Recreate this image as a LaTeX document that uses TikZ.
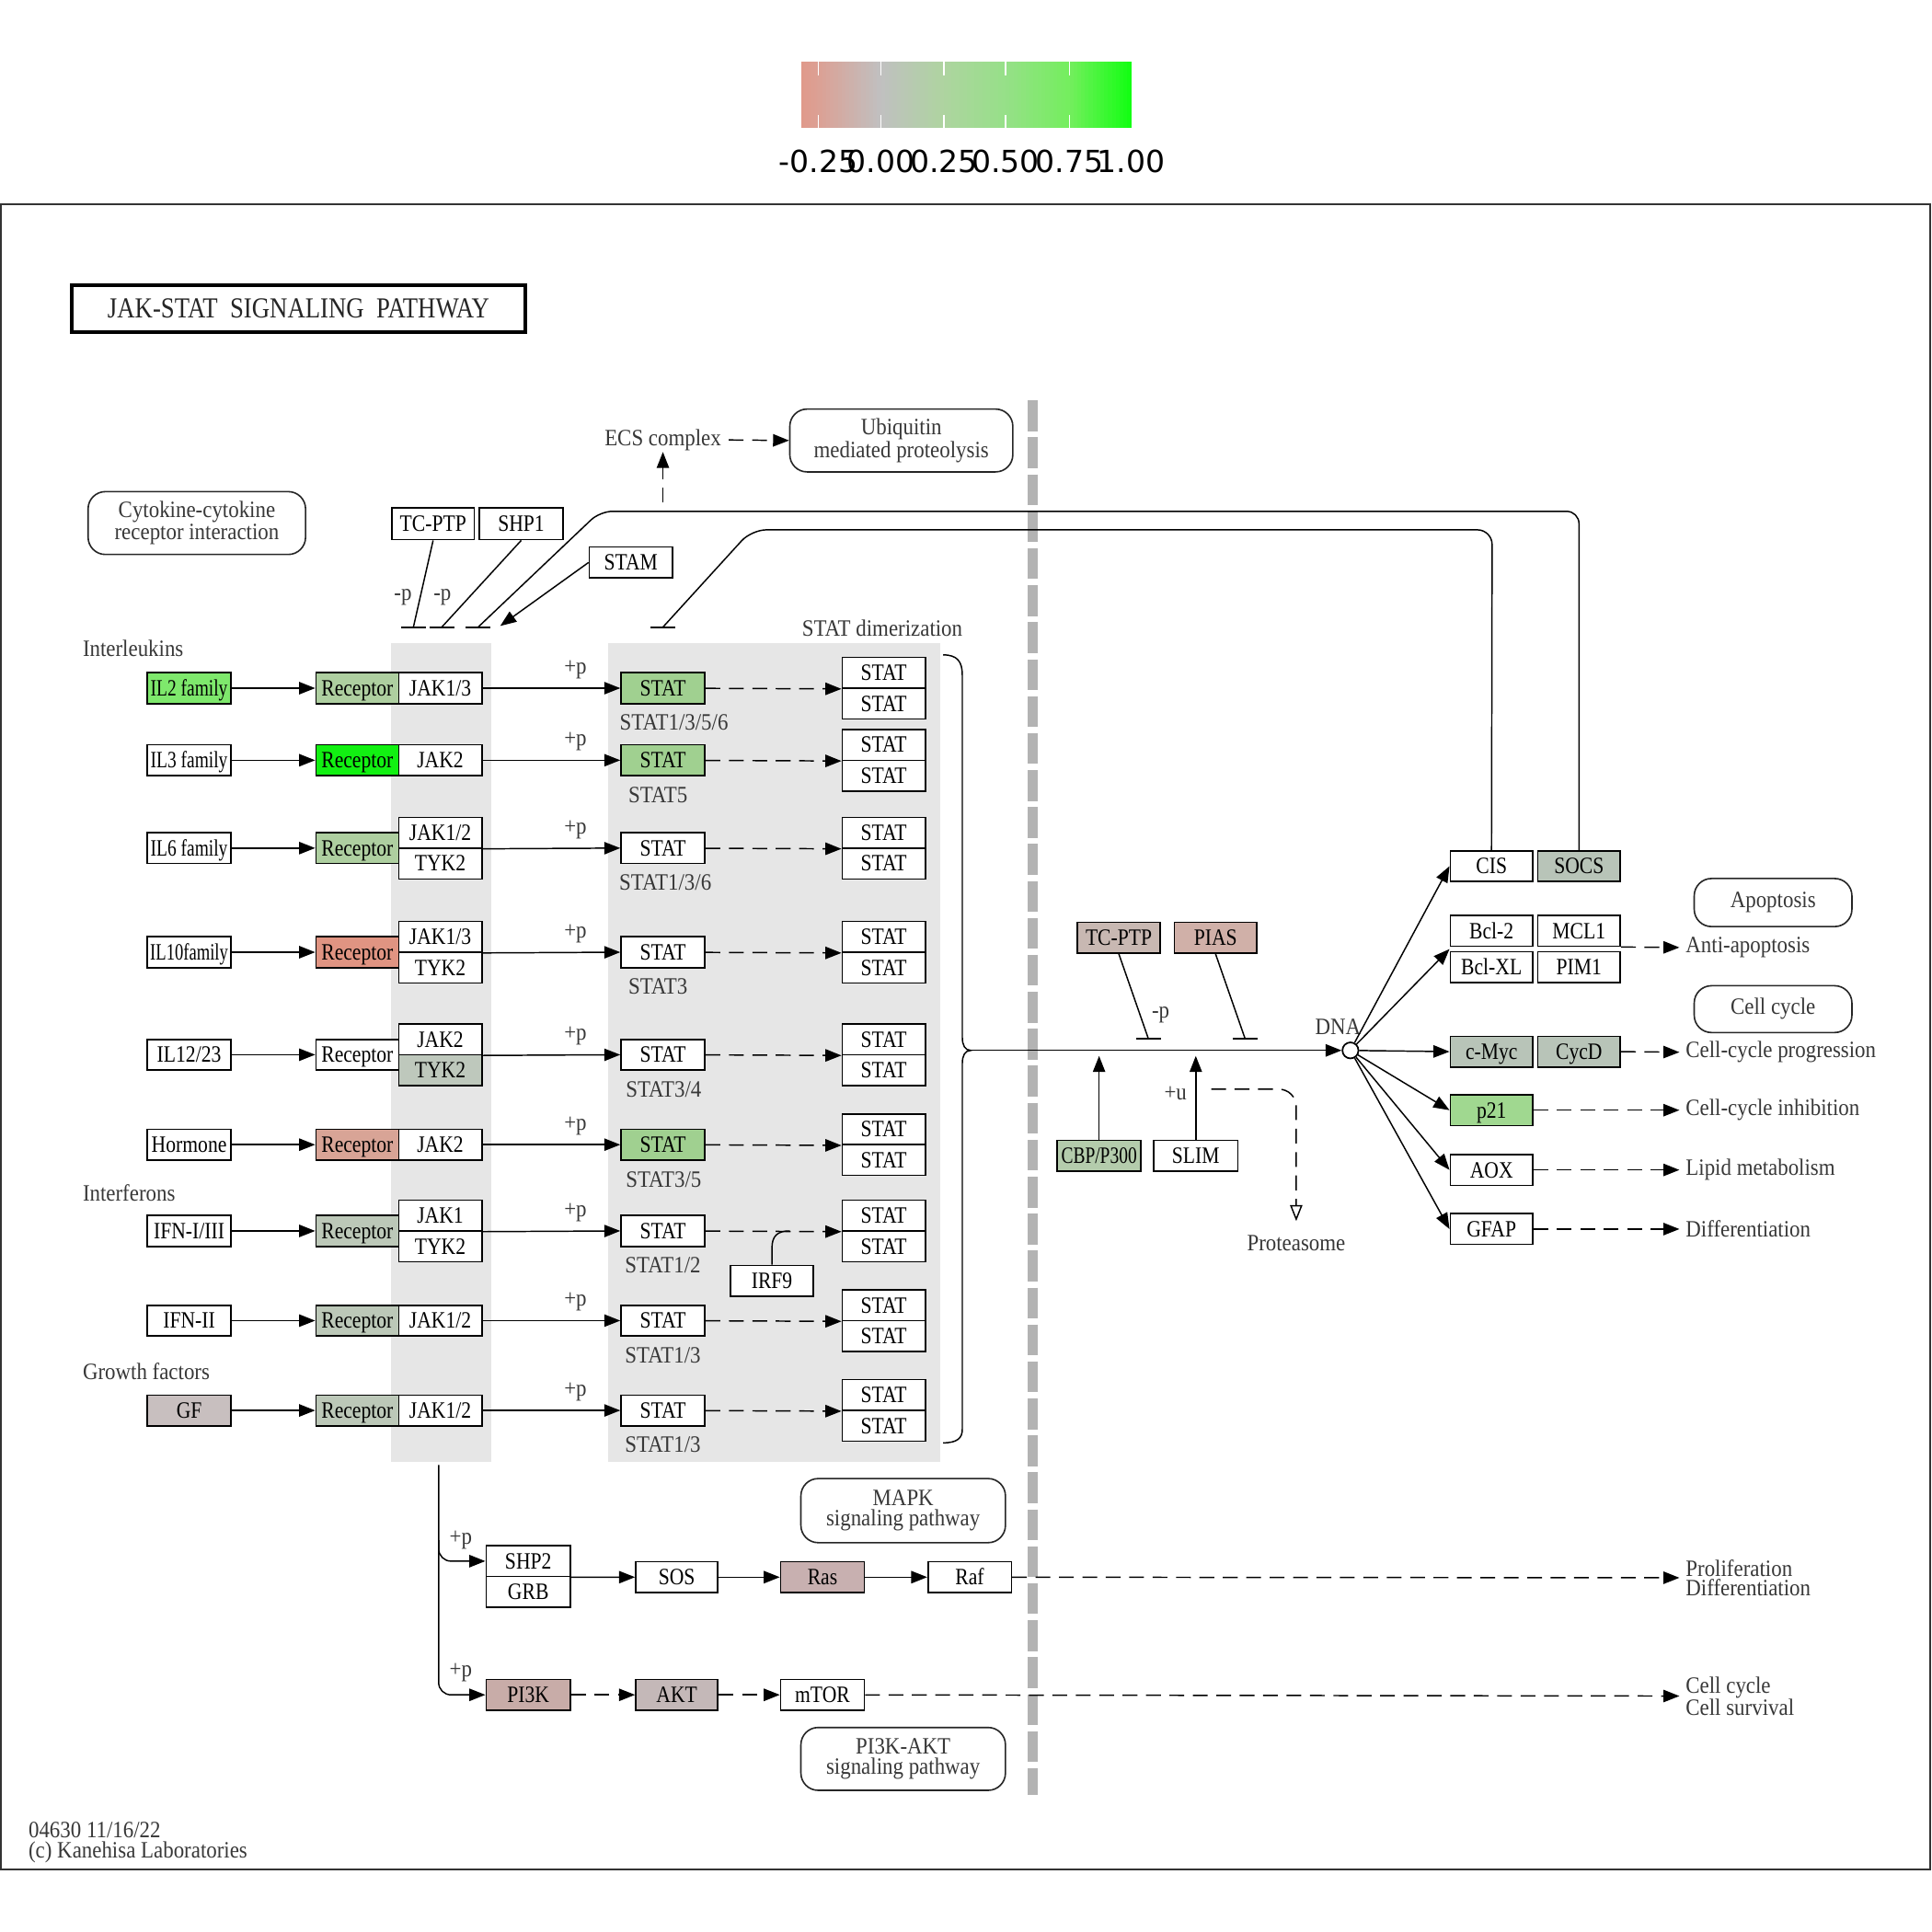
\documentclass[tikz,border=0pt]{standalone}
\usepackage{graphicx}
\usepackage{fontspec}
\setmainfont{Liberation Serif}
\newfontfamily\bxf[FakeStretch=0.85]{Liberation Serif}
\newfontfamily\lbf[FakeStretch=0.9]{Liberation Serif}
\newfontfamily\lgf{DejaVu Sans}
\usetikzlibrary{arrows.meta,calc}
\newcommand{\sqz}[2]{\scalebox{#1}[1]{#2}}
\definecolor{cGa}{HTML}{7EE86C}
\definecolor{cBright}{HTML}{12F012}
\definecolor{cSage}{HTML}{AECFA0}
\definecolor{cSal}{HTML}{E09482}
\definecolor{cSalL}{HTML}{D8A496}
\definecolor{cGS}{HTML}{BCC8B8}
\definecolor{cTyk}{HTML}{BEC8BC}
\definecolor{cSoc}{HTML}{B8C4B8}
\definecolor{cStat}{HTML}{A0D090}
\definecolor{cPtw}{HTML}{A0D890}
\definecolor{cGF}{HTML}{C8BFBF}
\definecolor{cTCP}{HTML}{C8B8B2}
\definecolor{cPIAS}{HTML}{D0B0A8}
\definecolor{cCBP}{HTML}{B4CCAC}
\definecolor{cRas}{HTML}{C8B0B0}
\definecolor{cPIK}{HTML}{C8ACA8}
\definecolor{cAKT}{HTML}{C4B8B8}
\definecolor{colJ}{HTML}{E6E6E6}
\definecolor{memc}{HTML}{B3B3B3}
\definecolor{txtg}{HTML}{383838}
\definecolor{lgA}{HTML}{E0998A}
\definecolor{lgB}{HTML}{DCA094}
\definecolor{lgC}{HTML}{C0C0C0}
\definecolor{lgD}{HTML}{AED4A0}
\definecolor{lgE}{HTML}{96E088}
\definecolor{lgF}{HTML}{74EE5E}
\definecolor{lgG}{HTML}{12FF12}
\tikzset{
 gbox/.style={draw=black, fill=white, line width=1.2pt, minimum width=67.5pt, minimum height=25pt, inner sep=0pt,
   font=\bxf\fontsize{19}{19}\selectfont, text height=14pt, text depth=1.5pt},
 lbl/.style={font=\lbf\fontsize{19}{16}\selectfont, text=txtg, inner sep=1pt},
 rbox/.style={draw=black!85, fill=white, line width=1.2pt, rounded corners=14pt, align=center,
   font=\lbf\fontsize{19}{16}\selectfont, text=txtg, inner sep=0pt},
 conn/.style={line width=1.1pt},
 arr/.style={conn, -{Triangle[length=13pt,width=10pt]}},
 dasharr/.style={arr, dash pattern=on 12pt off 7pt},
 toLbl/.style={dasharr, shorten >=4pt},
 inhbar/.style={line width=1.3pt},
 region/.style={fill=colJ, inner sep=0pt},
}
\begin{document}
\begin{tikzpicture}[x=1pt,y=-1pt]
\useasboundingbox (0,0) rectangle (1568,1568);
\fill[white] (0,0) rectangle (1568,1568);

% ---------- legend ----------
\foreach \xa/\xb/\ca/\cb in {650/664/lgA/lgB, 664/715/lgB/lgC, 715/766/lgC/lgD, 766/816/lgD/lgE, 816/868/lgE/lgF, 868/918/lgF/lgG}{
  \foreach \i in {0,...,15}{
    \pgfmathsetmacro{\pp}{100-(\i+0.5)*100/16}
    \pgfmathsetmacro{\xl}{\xa+(\xb-\xa)*\i/16}
    \pgfmathsetmacro{\xr}{\xa+(\xb-\xa)*(\i+1)/16+0.4}
    \fill[\ca!\pp!\cb] (\xl,50) rectangle (\xr,104);
  }
}
\foreach \t in {664,715,766,816,868}{
  \draw[white, line width=1pt] (\t,50) -- (\t,61) (\t,93) -- (\t,104);
}
\foreach \t/\v in {664/-0.25,715/0.00,766/0.25,816/0.50,868/0.75,918/1.00}{
  \node[font=\lgf\fontsize{24.7}{25}\selectfont, inner sep=0pt] (lg\t) at (\t,131) {\v};
}

% ---------- frame ----------
\draw[line width=1.5pt, black!80] (1,165.5) rectangle (1566.5,1517);

% ---------- title ----------
\node[draw=black, line width=2.6pt, minimum width=368pt, minimum height=38pt, inner sep=0pt,
  font=\bxf\fontsize{23.5}{23.5}\selectfont, text=black!85] (title) at (242.3,250.5) {JAK-STAT~~SIGNALING~~PATHWAY};

% ---------- shaded regions & membrane ----------
\node[region, minimum width=81.2pt, minimum height=664.5pt] (jakcol) at (358.2,854.25) {};
\node[region, minimum width=269.4pt, minimum height=664.5pt] (statcol) at (628.3,854.25) {};
\draw[memc, line width=8pt, dash pattern=on 25pt off 5pt] (838,325) -- (838,1457);

% ---------- map links ----------
\node[rbox, minimum width=176.5pt, minimum height=51pt] (cyto) at (159.75,424.5) {Cytokine-cytokine\\receptor interaction};
\node[rbox, minimum width=181pt, minimum height=51pt] (ubiq) at (731.5,357.5) {Ubiquitin\\mediated proteolysis};
\node[rbox, minimum width=128pt, minimum height=39pt] (apop) at (1439,732.5) {Apoptosis};
\node[rbox, minimum width=128pt, minimum height=38pt] (ccyc) at (1439,819) {Cell cycle};
\node[rbox, minimum width=166pt, minimum height=52pt] (mapk) at (733,1226) {MAPK\\signaling pathway};
\node[rbox, minimum width=166pt, minimum height=51pt] (pakt) at (733,1427.5) {PI3K-AKT\\signaling pathway};

% ---------- labels ----------
\node[lbl, anchor=west] (ilab) at (66,526.5) {Interleukins};
\node[lbl, anchor=west] (ifnlab) at (66,968) {Interferons};
\node[lbl, anchor=west] (gflab) at (66,1112.7) {Growth factors};
\node[lbl] (ecs) at (538,357) {ECS complex};
\node[lbl] (dimlab) at (716,510) {STAT dimerization};
\node[lbl] (mp1) at (327,485) {-p};
\node[lbl] (mp2) at (359,485) {-p};
\node[lbl] (mp3) at (942,824) {-p};
\node[lbl] (pu) at (954,887) {+u};
\node[lbl] (dnalab) at (1086,833) {DNA};
\node[lbl] (prot) at (1052,1009) {Proteasome};
\node[lbl] (pb1) at (374,1249.6) {+p};
\node[lbl] (pb2) at (374,1357.8) {+p};
\node[lbl, anchor=west, align=left] (foot) at (22,1495.5) {04630 11/16/22\\(c) Kanehisa Laboratories};

% ---------- rows ----------
\foreach \n/\y/\lig/\ligC/\recC/\stC/\stL/\stX in {
 1/558.5/{\sqz{0.9}{IL2 family}}/cGa/cSage/cStat/{STAT1/3/5/6}/547,
 2/617/{\sqz{0.9}{IL3 family}}/white/cBright/cStat/{STAT5}/534,
 3/688.3/{\sqz{0.9}{IL6 family}}/white/cSage/white/{STAT1/3/6}/540,
 4/772.8/{\sqz{0.86}{IL10family}}/white/cSal/white/{STAT3}/534,
 5/856/{IL12/23}/white/white/white/{STAT3/4}/538.6,
 6/929/{Hormone}/white/cSalL/cStat/{STAT3/5}/538.6,
 7/999/{IFN-I/III}/white/cGS/white/{STAT1/2}/538,
 8/1071.8/{IFN-II}/white/cGS/white/{STAT1/3}/538,
 9/1144.7/{GF}/cGF/cGS/white/{STAT1/3}/538}{
  \node[gbox, fill=\ligC, minimum width=68pt] (lig\n) at (153.5,\y) {\lig};
  \node[gbox, fill=\recC, minimum width=67.2pt] (rec\n) at (290,\y) {Receptor};
  \node[gbox, fill=\stC, minimum width=68pt] (stat\n) at (538,\y) {STAT};
  \node[lbl] (sl\n) at (\stX,\y+28) {\stL};
  \node[gbox] (dA\n) at (717.25,\y-12.5) {STAT};
  \node[gbox] (dB\n) at (717.25,\y+12.5) {STAT};
  \node[lbl] (pp\n) at (467,\y-15) {+p};
  \draw[arr] (lig\n) -- (rec\n);
  \draw[dasharr] (stat\n) -- (dA\n.south west);
}
% JAK boxes
\node[gbox] (jak1) at (357.3,558.5) {JAK1/3};
\node[gbox] (jak2) at (357.3,617) {JAK2};
\node[gbox] (jak3a) at (357.3,675.8) {JAK1/2};
\node[gbox] (jak3b) at (357.3,700.8) {TYK2};
\node[gbox] (jak4a) at (357.3,760.3) {JAK1/3};
\node[gbox] (jak4b) at (357.3,785.3) {TYK2};
\node[gbox] (jak5a) at (357.3,843.5) {JAK2};
\node[gbox, fill=cTyk] (jak5b) at (357.3,868.5) {TYK2};
\node[gbox] (jak6) at (357.3,929) {JAK2};
\node[gbox] (jak7a) at (357.3,986.5) {JAK1};
\node[gbox] (jak7b) at (357.3,1011.5) {TYK2};
\node[gbox] (jak8) at (357.3,1071.8) {JAK1/2};
\node[gbox] (jak9) at (357.3,1144.7) {JAK1/2};
\draw[arr] (jak1) -- (stat1);
\draw[arr] (jak2) -- (stat2);
\draw[arr] (jak3a.south east) -- (stat3.west);
\draw[arr] (jak4a.south east) -- (stat4.west);
\draw[arr] (jak5a.south east) -- (stat5.west);
\draw[arr] (jak6) -- (stat6);
\draw[arr] (jak7a.south east) -- (stat7.west);
\draw[arr] (jak8) -- (stat8);
\draw[arr] (jak9) -- (stat9);

% IRF9
\node[gbox, minimum width=67pt] (irf9) at (626.5,1039.5) {IRF9};
\coordinate (irfj) at (641,999);
\draw[conn] (irf9.north) -- (626.5,1013) .. controls (626.5,1003) and (631,999) .. (irfj);

% ---------- upstream regulators ----------
\node[gbox, minimum width=67pt, minimum height=26pt] (tcptp1) at (351.5,425) {TC-PTP};
\node[gbox, minimum width=68pt, minimum height=26pt] (shp1) at (423,425) {SHP1};
\node[gbox, minimum width=67.5pt] (stam) at (512,456.5) {STAM};
\coordinate (bar1) at (335.5,509);
\coordinate (bar2) at (358.5,509);
\coordinate (bar3) at (388,509);
\coordinate (bar4) at (538,509);
\coordinate (stamtip) at (406,508);
\coordinate (ecsfoot) at (538,408);

% ---------- nucleus targets ----------
\node[gbox, minimum width=67pt] (cis) at (1210.5,703) {CIS};
\node[gbox, minimum width=67pt, fill=cSoc] (socs) at (1281.5,703) {SOCS};
\node[gbox, minimum width=67pt] (bcltwo) at (1210.5,755.5) {Bcl-2};
\node[gbox, minimum width=67pt] (mclone) at (1281.5,755.5) {MCL1};
\node[gbox, minimum width=67pt] (bclxl) at (1210.5,785) {Bcl-XL};
\node[gbox, minimum width=67pt] (pimone) at (1281.5,785) {PIM1};
\node[gbox, minimum width=67pt, fill=cSoc] (cmyc) at (1210.5,853.5) {c-Myc};
\node[gbox, minimum width=67pt, fill=cSoc] (cycd) at (1281.5,853.5) {CycD};
\node[gbox, minimum width=67pt, fill=cPtw] (ptw) at (1210.5,901) {p21};
\node[gbox, minimum width=67pt] (aox) at (1210.5,949.5) {AOX};
\node[gbox, minimum width=67pt] (gfap) at (1210.5,997.5) {GFAP};

\node[lbl, anchor=west] (antiapo) at (1367,769) {Anti-apoptosis};
\node[lbl, anchor=west] (ccprog) at (1367,854) {Cell-cycle progression};
\node[lbl, anchor=west] (ccinh) at (1367,901) {Cell-cycle inhibition};
\node[lbl, anchor=west] (lipid) at (1367,949.5) {Lipid metabolism};
\node[lbl, anchor=west] (diffl) at (1367,997.5) {Differentiation};
\node[lbl, anchor=west, align=left] (prolif) at (1367,1280.5) {Proliferation\\Differentiation};
\node[lbl, anchor=west, align=left] (ccsurv) at (1367,1376.5) {Cell cycle\\Cell survival};

% nuclear regulators
\node[gbox, fill=cTCP, minimum width=67.5pt] (tcptp2) at (908,761) {TC-PTP};
\node[gbox, fill=cPIAS, minimum width=67pt] (pias) at (986.5,761) {PIAS};
\node[gbox, fill=cCBP, minimum width=68pt] (cbp) at (892,938) {\sqz{0.9}{CBP/P300}};
\node[gbox, minimum width=68pt] (slim) at (970.5,938) {SLIM};
\node[circle, draw=black, fill=white, line width=1.3pt, minimum size=13pt, inner sep=0pt] (dna) at (1096,852.5) {};
\coordinate (tpb) at (932,843);
\coordinate (piasb) at (1010.5,843);
\coordinate (brtip) at (788,852.5);
\coordinate (cbptip) at (892,857);
\coordinate (slimtip) at (970.5,857);
\coordinate (protip) at (1052,991);

% ---------- bottom pathways ----------
\node[gbox, minimum width=68.5pt] (shptwo) at (428.75,1267) {SHP2};
\node[gbox, minimum width=68.5pt] (grb) at (428.75,1292) {GRB};
\node[gbox, minimum width=66.6pt] (sos) at (549.3,1280) {SOS};
\node[gbox, minimum width=68pt, fill=cRas] (ras) at (667.5,1280) {Ras};
\node[gbox, minimum width=67.7pt] (raf) at (787,1280) {Raf};
\node[gbox, minimum width=68.5pt, fill=cPIK] (pik) at (428.75,1375.5) {PI3K};
\node[gbox, minimum width=66.6pt, fill=cAKT] (akt) at (549.3,1375.5) {AKT};
\node[gbox, minimum width=68pt] (mtor) at (667.5,1375.5) {mTOR};
\coordinate (jbot) at (356,1189);
\coordinate (jmid) at (356,1250);

% ---------- connectors ----------
\draw[conn, rounded corners=10pt] (socs.north) -- (1281.5,415) -- (487,415) -- (bar3);
\draw[conn, rounded corners=12pt] (cis.north) -- (1211,430) -- (610,430) -- (bar4);
\draw[conn] (tcptp1.south) -- (bar1);
\draw[conn] (shp1.south) -- (bar2);
\foreach \b in {bar1,bar2,bar3,bar4}{
  \draw[inhbar] ($(\b)+(-10,0)$) -- ($(\b)+(10,0)$);
}
\draw[arr] (stam.west) -- (stamtip);
\draw[dasharr] (ecsfoot) -- (ecs.south);
\draw[dasharr, shorten <=5pt] (ecs.east) -- (ubiq.west);

% brace and main line
\draw[conn] (765.5,531.5) .. controls (777,531.5) and (781,537) .. (781,548) -- (781,842)
  .. controls (781,848) and (783,852.5) .. (brtip)
  .. controls (783,852.5) and (781,857) .. (781,863) -- (781,1160)
  .. controls (781,1167) and (777,1171) .. (765.5,1171);
\draw[arr] (brtip) -- (dna);
\draw[conn] (tcptp2.south) -- (tpb);
\draw[conn] (pias.south) -- (piasb);
\draw[inhbar] ($(tpb)+(-10,0)$) -- ($(tpb)+(10,0)$);
\draw[inhbar] ($(piasb)+(-10,0)$) -- ($(piasb)+(10,0)$);
\draw[arr] (cbp.north) -- (cbptip);
\draw[arr] (slim.north) -- (slimtip);
\draw[conn, dash pattern=on 12pt off 7pt, rounded corners=14pt, -{Triangle[open,length=13pt,width=10pt]}]
  (983,884) -- (1052,884) -- (protip);

% DNA to targets
\draw[arr] (dna) -- (cis.west);
\draw[arr] (dna) -- ($(bcltwo.south west)!0.5!(bclxl.north west)$);
\draw[arr] (dna) -- (cmyc.west);
\draw[arr] (dna) -- (ptw.west);
\draw[arr] (dna) -- (aox.west);
\draw[arr] (dna) -- (gfap.west);
\draw[toLbl] (mclone.south east) -- (antiapo.west);
\draw[toLbl] (cycd.east) -- (ccprog.west);
\draw[toLbl] (ptw.east) -- (ccinh.west);
\draw[toLbl] (aox.east) -- (lipid.west);
\draw[toLbl] (gfap.east) -- (diffl.west);

% bottom branches
\draw[arr, rounded corners=10pt] (jbot) -- (356,1375.5) -- (pik.west);
\draw[arr, rounded corners=10pt] (jmid) -- (356,1267) -- (shptwo.west);
\draw[arr] (shptwo.south east) -- (sos.west);
\draw[arr] (sos) -- (ras);
\draw[arr] (ras) -- (raf);
\draw[toLbl] (raf) -- (prolif.west);
\draw[dasharr] (pik) -- (akt);
\draw[dasharr] (akt) -- (mtor);
\draw[toLbl] (mtor) -- (ccsurv.west);
\end{tikzpicture}
\end{document}
